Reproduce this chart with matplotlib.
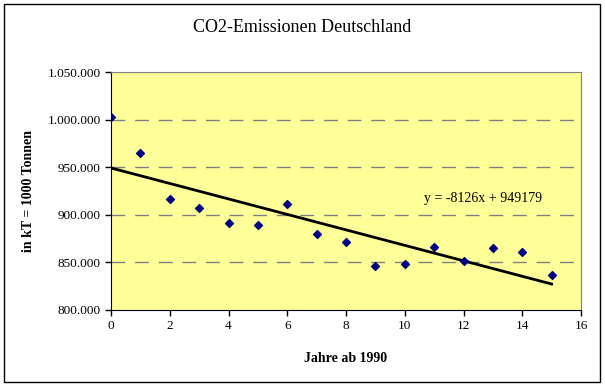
import matplotlib
matplotlib.use("Agg")
import matplotlib.pyplot as plt
from matplotlib.ticker import FuncFormatter, MultipleLocator
from matplotlib.patches import Rectangle

years = [0, 1, 2, 3, 4, 5, 6, 7, 8, 9, 10, 11, 12, 13, 14, 15]
emissions = [1002800, 964700, 916400, 906900, 891900, 889800, 911800, 880300,
             871900, 846700, 848800, 866600, 851600, 865600, 860700, 836600]
slope = -8126
intercept = 949179
trend_label = "y = -8126x + 949179"

plt.rcParams['font.family'] = ['Liberation Serif', 'DejaVu Serif']

fig = plt.figure(figsize=(6.05, 3.87), dpi=100)
fig.patches.append(Rectangle((4/605, 5/387), 596/605, 378/387, transform=fig.transFigure,
                             fill=False, edgecolor='black', linewidth=1.0))
ax = fig.add_axes([111/605, 1-310/387, 470/605, 238/387])
ax.set_facecolor('#FFFF99')

ax.set_xlim(0, 16)
ax.set_ylim(800000, 1050000)
ax.xaxis.set_major_locator(MultipleLocator(2))
ax.yaxis.set_major_locator(MultipleLocator(50000))
ax.yaxis.set_major_formatter(FuncFormatter(lambda v, p: f"{int(v):,}".replace(",", ".")))

for yv in [850000, 900000, 950000, 1000000]:
    ax.axhline(yv, color='#808080', linewidth=1.0, dashes=(10, 7), zorder=1)

xs = [years[0], years[-1]]
ax.plot(xs, [slope * x + intercept for x in xs], color='black', linewidth=2.0, zorder=2)
ax.scatter(years, emissions, marker='D', s=16, color='#000080', zorder=3)

ax.text(10.65, 917000, trend_label, fontsize=10, va='center', ha='left')

for side in ['top', 'right']:
    ax.spines[side].set_color('#808080')
for side in ['left', 'bottom']:
    ax.spines[side].set_color('black')
ax.tick_params(direction='out', length=4, width=1, labelsize=9.5, colors='black')

ax.set_xlabel("Jahre ab 1990", fontsize=10, fontweight='bold', labelpad=14)
ax.set_ylabel("in kT = 1000 Tonnen", fontsize=10, fontweight='bold', labelpad=9)
fig.text(0.5, 1-27/387, "CO2-Emissionen Deutschland", fontsize=13, ha='center', va='center')

fig.savefig("out.png", dpi=100)
